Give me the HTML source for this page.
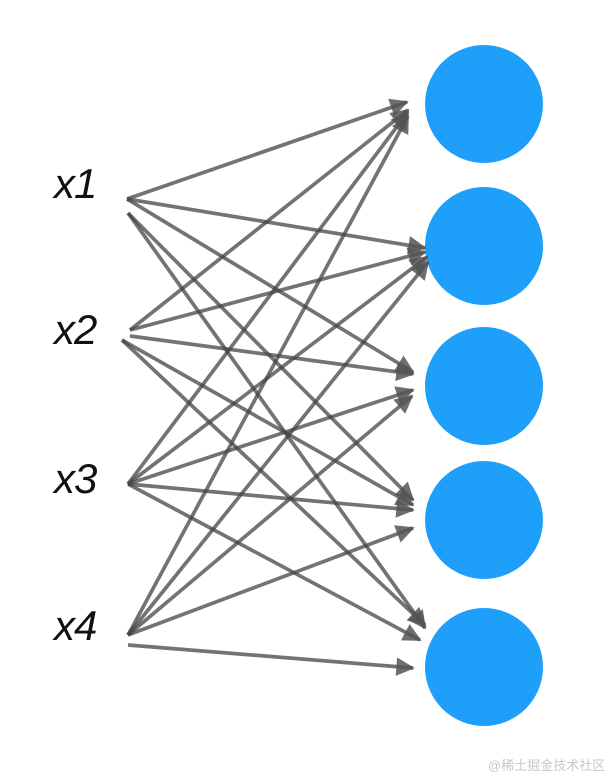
<!DOCTYPE html>
<html><head><meta charset="utf-8"><style>
html,body{margin:0;padding:0;background:#fff;width:608px;height:778px;overflow:hidden}
svg{display:block}
</style></head><body>
<svg width="608" height="778" viewBox="0 0 608 778" xmlns="http://www.w3.org/2000/svg">
<defs>
<marker id="a" viewBox="0 0 10 10" refX="9" refY="5" markerWidth="5.5" markerHeight="5" orient="auto" markerUnits="strokeWidth">
<path d="M0,0 L10,5 L0,10 z" fill="#555" fill-opacity="0.85"/>
</marker>
</defs>
<g fill="#1ea0fa">
<circle cx="484" cy="104" r="59"/>
<circle cx="484" cy="246" r="59"/>
<circle cx="484" cy="386" r="59"/>
<circle cx="484" cy="520" r="59"/>
<circle cx="484" cy="667" r="59"/>
</g>
<g stroke="#444" stroke-opacity="0.75" stroke-width="3.7" fill="none" marker-end="url(#a)">
<line x1="127" y1="199" x2="407" y2="102"/>
<line x1="127" y1="199" x2="425" y2="248"/>
<line x1="127" y1="199" x2="413" y2="372"/>
<line x1="128" y1="213" x2="413" y2="500"/>
<line x1="128" y1="213" x2="425" y2="628"/>
<line x1="130" y1="330" x2="408" y2="110"/>
<line x1="130" y1="330" x2="425" y2="252"/>
<line x1="130" y1="336" x2="413" y2="374"/>
<line x1="122" y1="340" x2="413" y2="505"/>
<line x1="122" y1="340" x2="425" y2="625"/>
<line x1="128" y1="484" x2="408" y2="112"/>
<line x1="128" y1="484" x2="427" y2="257"/>
<line x1="128" y1="484" x2="413" y2="390"/>
<line x1="128" y1="484" x2="413" y2="510"/>
<line x1="128" y1="484" x2="420" y2="640"/>
<line x1="128" y1="635" x2="408" y2="116"/>
<line x1="128" y1="635" x2="428" y2="262"/>
<line x1="128" y1="635" x2="413" y2="528"/>
<line x1="128" y1="635" x2="412" y2="396"/>
<line x1="128" y1="645" x2="413" y2="668"/>
</g>
<g font-family="Liberation Sans, sans-serif" font-style="italic" font-size="42" fill="#111" letter-spacing="-1">
<text x="54" y="198">x1</text>
<text x="54" y="344">x2</text>
<text x="54" y="493">x3</text>
<text x="54" y="640">x4</text>
</g>
<text x="488" y="770" font-family="Liberation Sans, 'Noto Sans CJK SC', sans-serif" font-size="13" fill="#c8c8c8">@稀土掘金技术社区</text>
</svg>
</body></html>
